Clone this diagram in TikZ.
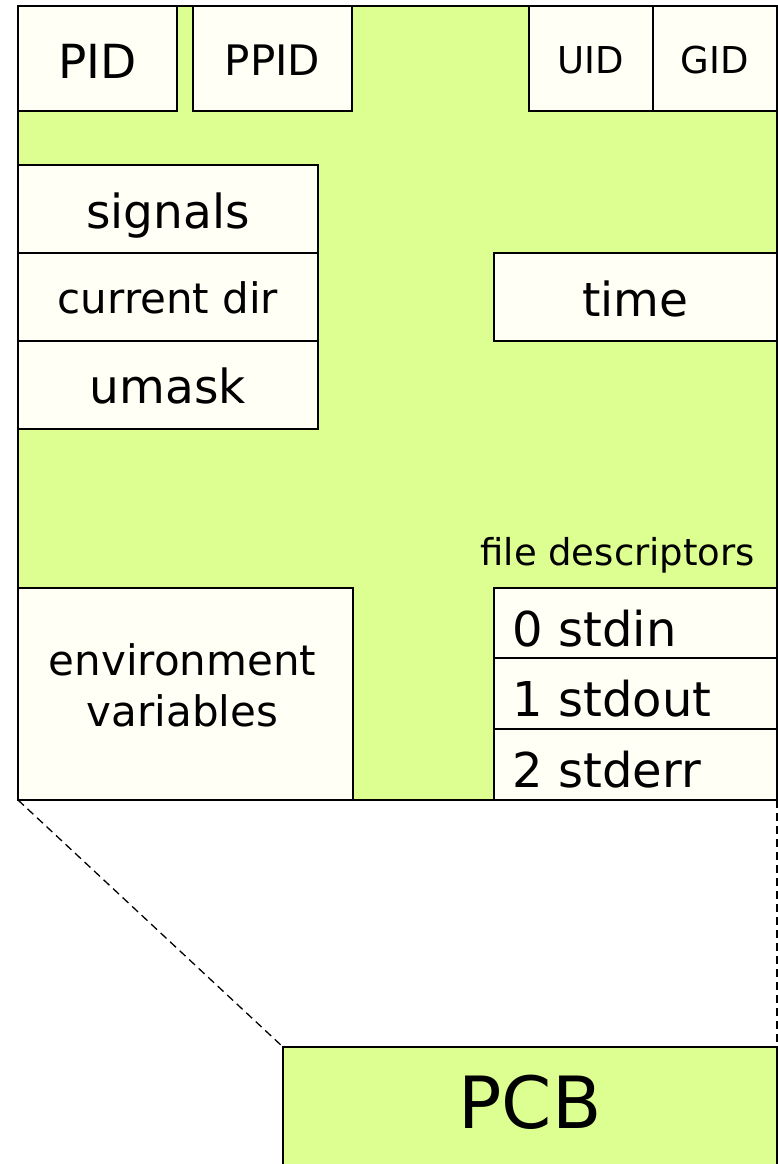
\documentclass[tikz,border=0pt]{standalone}
\usepackage{fontspec}
\setmainfont{DejaVu Sans}
\usetikzlibrary{positioning}

\definecolor{pcbgreen}{RGB}{221,255,145}
\definecolor{fieldbg}{RGB}{255,255,246}

\begin{document}
\begin{tikzpicture}[x=1pt,y=-1pt,line width=1.6pt,
  inner sep=0pt,outer sep=0pt]

  \tikzstyle{area}=[rectangle,draw,fill=pcbgreen,anchor=north west];
  \tikzstyle{field}=[rectangle,draw,fill=fieldbg,anchor=north west,text depth=0pt];
  \tikzstyle{fdslot}=[field,minimum width=283pt,text width=247pt,align=left,
    text height=46pt,font=\fontsize{48}{50}\selectfont];
  \tikzstyle{link}=[dashed,dash pattern=on 8pt off 5pt,line width=1.3pt];

  \useasboundingbox (0,0) rectangle (778,1164);
  \clip (0,0) rectangle (778,1164);

  \node[area,minimum width=759pt,minimum height=794pt] (proc) at (18,6) {};

  \node[field,minimum width=159pt,minimum height=105pt,text height=40pt,
    font=\fontsize{47}{50}\selectfont] (pid) at (18,6) {PID};
  \node[field,minimum width=159pt,minimum height=105pt,text height=33pt,
    font=\fontsize{42}{50}\selectfont] (ppid) [right=16pt of pid] {PPID};
  \node[field,minimum width=124pt,minimum height=105pt,text height=30pt,
    font=\fontsize{37}{50}\selectfont] (uid) at (529,6) {UID};
  \node[field,minimum width=124pt,minimum height=105pt,text height=30pt,
    font=\fontsize{37}{50}\selectfont] (gid) [right=0pt of uid] {GID};

  \node[field,minimum width=300pt,minimum height=88pt,text height=38pt,
    font=\fontsize{47}{50}\selectfont] (signals) at (18,165) {signals};
  \node[field,minimum width=300pt,minimum height=88pt,text height=32pt,
    font=\fontsize{42}{50}\selectfont] (curdir) [below=0pt of signals] {current dir};
  \node[field,minimum width=300pt,minimum height=88pt,text height=36pt,
    font=\fontsize{47}{50}\selectfont] (umask) [below=0pt of curdir] {umask};

  \node[field,minimum width=283pt,minimum height=88pt,text height=38pt,
    font=\fontsize{47}{50}\selectfont] (time) at (494,253) {time};

  \node[field,minimum width=335pt,minimum height=212pt] (envvars) at (18,588) {};
  \node[align=center,font=\fontsize{42}{51}\selectfont] (envtext)
    at ([shift={(-3,-9)}]envvars.center) {environment\\variables};

  \node[fdslot,minimum height=70pt] (fd0) at (494,588) {0 stdin};
  \node[fdslot,minimum height=71pt] (fd1) [below=0pt of fd0] {1 stdout};
  \node[fdslot,minimum height=71pt] (fd2) [below=0pt of fd1] {2 stderr};
  \node[font=\fontsize{37}{40}\selectfont,text depth=0pt] (fdlabel)
    [above left=23pt and 22pt of fd0.north east] {file descriptors};

  \node[area,minimum width=494pt,minimum height=130pt,text height=32pt,
    text depth=0pt,font=\fontsize{72}{74}\selectfont] (pcb) at (283,1047) {PCB};

  \path[link]
    (proc.south west) edge (pcb.north west)
    (proc.south east) edge (pcb.north east)
  ;

\end{tikzpicture}
\end{document}
